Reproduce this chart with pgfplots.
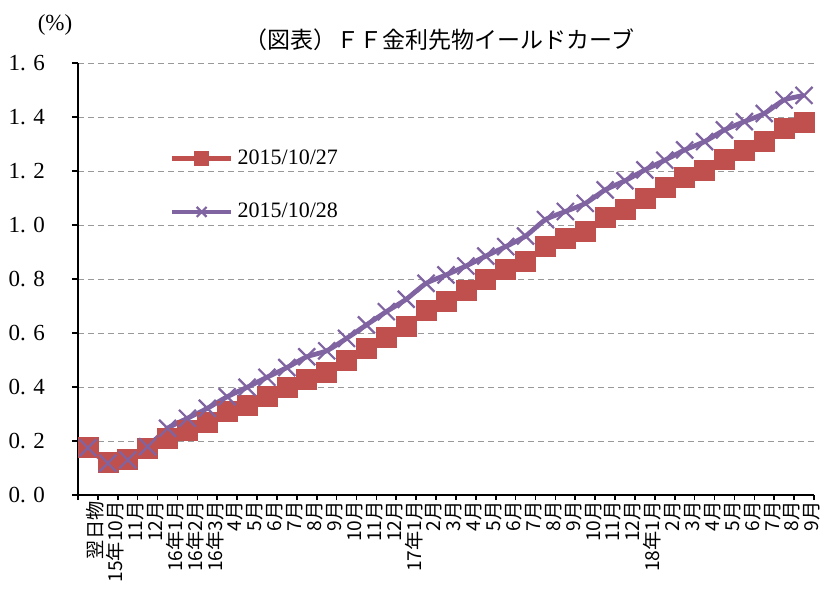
\documentclass[border=0pt]{standalone}
\usepackage{fontspec}
\setmainfont{Liberation Serif}
\newfontfamily\jp{Noto Sans CJK JP}
\usepackage{pgfplots}
\pgfplotsset{compat=1.18}
\usetikzlibrary{calc}
\definecolor{cred}{HTML}{C0504D}
\definecolor{cpur}{HTML}{8064A2}
\begin{document}
\begin{tikzpicture}
\begin{axis}[
  scale only axis,
  width=368pt, height=216pt,
  xmin=-0.5, xmax=36.5,
  ymin=0, ymax=1.6,
  axis x line=bottom, axis y line=left,
  axis line style={-, line width=1.4pt, black},
  xtick={0,...,36},
  major x tick style={draw=none},
  minor xtick={-0.5,0.5,...,36.5},
  minor x tick style={black, line width=0.8pt},
  minor tick length=2.5pt,
  xticklabels={翌日物,15年10月,11月,12月,16年1月,16年2月,16年3月,4月,5月,6月,7月,8月,9月,10月,11月,12月,17年1月,2月,3月,4月,5月,6月,7月,8月,9月,10月,11月,12月,18年1月,2月,3月,4月,5月,6月,7月,8月,9月},
  xticklabel style={font=\jp\fontsize{9.6}{10}\selectfont, rotate=90, anchor=east, inner sep=0pt, text height=7.6pt, text depth=0.8pt, yshift=-4pt},
  ytick={0,0.2,0.4,0.6,0.8,1.0,1.2,1.4,1.6},
  yticklabels={0.\,\,0,0.\,\,2,0.\,\,4,0.\,\,6,0.\,\,8,1.\,\,0,1.\,\,2,1.\,\,4,1.\,\,6},
  yticklabel style={font=\fontsize{11.5}{12}\selectfont, xshift=-10pt},
  ytick style={black, line width=1.2pt},
  ytick pos=left,
  tick align=outside,
  major tick length=3pt,
  ymajorgrids,
  major grid style={densely dashed, gray!80, line width=0.5pt},
  legend style={draw=none, fill=none, at={(rel axis cs:0.124,0.81)}, anchor=north west,
    font=\fontsize{11}{12}\selectfont, row sep=14pt, inner sep=0pt},
  legend cell align=left,
  legend image code/.code={
    \draw[mark repeat=2,mark phase=2, mark size=3.5pt] plot coordinates {(0cm,0cm) (0.52cm,0cm) (1.04cm,0cm)};
  },
  clip=false,
]
\coordinate (sw) at (rel axis cs:0,0);
\coordinate (ne) at (rel axis cs:1,1);
\addplot[cred, line width=2.4pt, mark=square*, mark size=5pt, mark options={line width=0.3pt, fill=cred}] coordinates {
(0,0.175) (1,0.122) (2,0.133) (3,0.174) (4,0.211) (5,0.239) (6,0.269) (7,0.311) (8,0.332) (9,0.364)
(10,0.400) (11,0.430) (12,0.453) (13,0.498) (14,0.542) (15,0.583) (16,0.623) (17,0.684) (18,0.717) (19,0.758)
(20,0.800) (21,0.835) (22,0.866) (23,0.921) (24,0.949) (25,0.975) (26,1.027) (27,1.059) (28,1.100) (29,1.139)
(30,1.175) (31,1.204) (32,1.245) (33,1.275) (34,1.311) (35,1.360) (36,1.380)
};
\addlegendentry{2015/10/27}
\addplot[cpur, line width=2.4pt, smooth, tension=0.35, mark=x, mark size=6pt, mark options={line width=1.1pt}] coordinates {
(0,0.175) (1,0.118) (2,0.130) (3,0.179) (4,0.247) (5,0.284) (6,0.321) (7,0.364) (8,0.399) (9,0.436)
(10,0.472) (11,0.512) (12,0.534) (13,0.580) (14,0.630) (15,0.679) (16,0.725) (17,0.784) (18,0.815) (19,0.848)
(20,0.885) (21,0.920) (22,0.959) (23,1.020) (24,1.050) (25,1.080) (26,1.130) (27,1.164) (28,1.204) (29,1.240)
(30,1.278) (31,1.309) (32,1.352) (33,1.383) (34,1.413) (35,1.463) (36,1.480)
};
\addlegendentry{2015/10/28}
\node[font=\jp\fontsize{11.5}{12}\selectfont] at ($(rel axis cs:0.478,1)+(0,11.5pt)$) {（図表）ＦＦ金利先物イールドカーブ};
\node[font=\fontsize{11.5}{12}\selectfont] at ($(rel axis cs:0,1)+(-11.5pt,19pt)$) {(\%)};
\end{axis}
\pgfresetboundingbox
\path[use as bounding box] ($(sw)+(-39pt,-53pt)$) rectangle ($(ne)+(5pt,31.5pt)$);
\end{tikzpicture}
\end{document}
